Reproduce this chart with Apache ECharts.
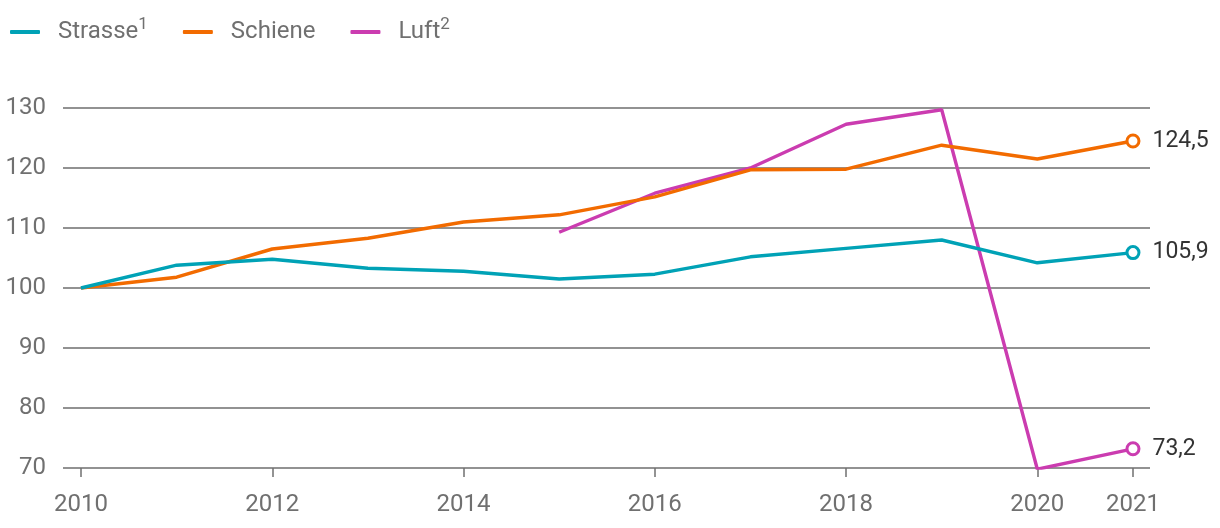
<!DOCTYPE html>
<html><head><meta charset="utf-8">
<script src="https://cdn.jsdelivr.net/npm/echarts@6/dist/echarts.min.js"></script>
<style>html,body{margin:0;padding:0;background:#fff}#c{width:1220px;height:528px}</style>
</head><body><div id="c"></div>
<script>
const years = [2010,2011,2012,2013,2014,2015,2016,2017,2018,2019,2020,2021];
const strasse = [100,103.8,104.8,103.3,102.8,101.5,102.3,105.2,106.6,108.0,104.2,105.9];
const schiene = [100,101.8,106.5,108.3,111.0,112.2,115.2,119.7,119.8,123.8,121.5,124.5];
const luft = [null,null,null,null,null,109.3,115.8,120.0,127.3,129.7,69.8,73.2];
const xTickLabels = [2010,2012,2014,2016,2018,2020,2021];
const yTicks = [70,80,90,100,110,120,130];
const seriesNames = ['Strasse','Schiene','Luft'];
const superscripts = {Strasse:'1', Schiene:'', Luft:'2'};
const colors = ['#00a2b6','#f26b00','#cb3cb0'];

const fmt = v => v.toFixed(1).replace('.', ',');
function build(vals, color){
  const last = vals.length-1;
  return vals.map((v,i)=>{
    if(v===null) return [years[i], null];
    if(i===last) return {value:[years[i],v], symbol:'circle', symbolSize:12,
      itemStyle:{color:'#fff', borderColor:color, borderWidth:3},
      label:{show:true, position:'right', distance:12, formatter:()=>fmt(v), color:'#333', fontSize:23, fontFamily:'Roboto'}};
    return [years[i], v];
  });
}
const allVals=[strasse,schiene,luft];
const chart = echarts.init(document.getElementById('c'), null, {renderer:'canvas'});
chart.setOption({
  animation:false,
  textStyle:{fontFamily:'Roboto'},
  legend:{
    left:5, top:11, itemWidth:30, itemHeight:4, itemGap:35,
    icon:'roundRect',
    textStyle:{color:'#707070', fontSize:24, fontFamily:'Roboto',
      rich:{n:{fontSize:24,color:'#707070',fontFamily:'Roboto',padding:[0,0,0,13]}, s:{fontSize:17,color:'#707070',fontFamily:'Roboto',verticalAlign:'top',padding:[0,0,15,0]}}},
    formatter: name => superscripts[name] ? '{n|'+name+'}{s|'+superscripts[name]+'}' : '{n|'+name+'}',
    data: seriesNames
  },
  grid:{left:63, right:70, top:108, bottom:60},
  xAxis:{
    type:'value', min:2009.812, max:2021.178,
    splitLine:{show:false},
    axisLine:{show:false},
    axisTick:{show:true, customValues:xTickLabels, length:9, lineStyle:{color:'#707070', width:1.5}},
    axisLabel:{customValues:xTickLabels, color:'#707070', fontSize:24, margin:25, formatter:v=>String(v)}
  },
  yAxis:{
    type:'value', min:70, max:130, interval:10,
    axisLine:{show:false}, axisTick:{show:false},
    splitLine:{lineStyle:{color:'#6e6e6e', width:1.5}},
    axisLabel:{color:'#707070', fontSize:24, margin:17}
  },
  series: seriesNames.map((n,k)=>({
    name:n, type:'line', data:build(allVals[k], colors[k]), symbol:'none', connectNulls:false,
    lineStyle:{color:colors[k], width:3.4}, itemStyle:{color:colors[k]},
    color:colors[k], z:5-k
  }))
});
</script></body></html>
